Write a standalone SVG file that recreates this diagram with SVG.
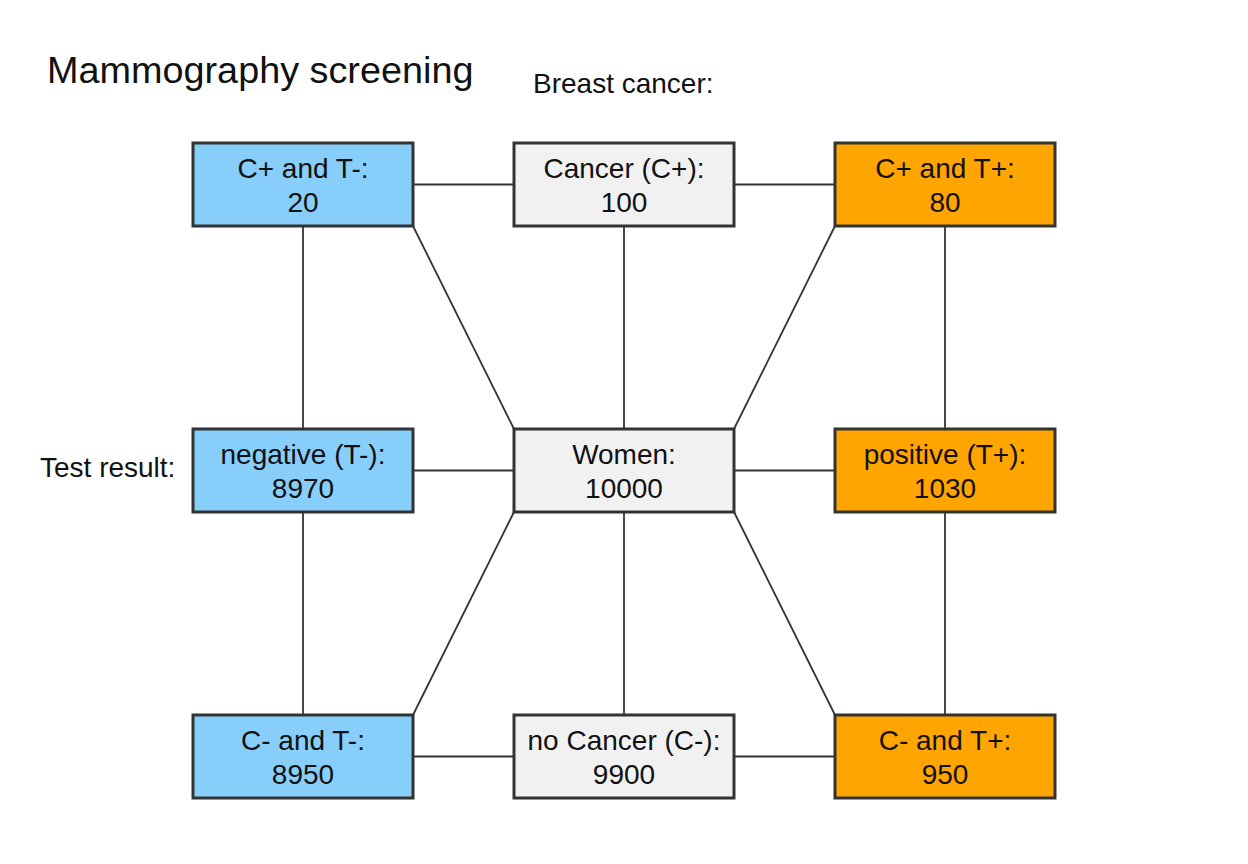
<svg xmlns="http://www.w3.org/2000/svg" width="1248" height="864" viewBox="0 0 1248 864">
<style>
  .box { stroke: #333333; stroke-width: 3; }
  .blue { fill: #87CEFA; }
  .gray { fill: #F1F1F1; }
  .orange { fill: #FFA500; }
  .lbl { font-family: "Liberation Sans", Arial, sans-serif; font-size: 28px; fill: #111; text-anchor: middle; }
  .free { font-family: "Liberation Sans", Arial, sans-serif; font-size: 28px; fill: #111; }
  .conn line { stroke: #333; stroke-width: 1.8; }
</style>
<rect width="1248" height="864" fill="#ffffff"/>
<text class="free" x="47" y="83" style="font-size:37.8px">Mammography screening</text>
<text class="free" x="533" y="93">Breast cancer:</text>
<text class="free" x="40" y="477">Test result:</text>
<g id="connectors" class="conn">
  <line x1="413" y1="184.5" x2="514" y2="184.5"/>
  <line x1="734" y1="184.5" x2="835" y2="184.5"/>
  <line x1="413" y1="470.5" x2="514" y2="470.5"/>
  <line x1="734" y1="470.5" x2="835" y2="470.5"/>
  <line x1="413" y1="756.5" x2="514" y2="756.5"/>
  <line x1="734" y1="756.5" x2="835" y2="756.5"/>
  <line x1="303" y1="226" x2="303" y2="429"/>
  <line x1="303" y1="512" x2="303" y2="715"/>
  <line x1="624" y1="226" x2="624" y2="429"/>
  <line x1="624" y1="512" x2="624" y2="715"/>
  <line x1="945" y1="226" x2="945" y2="429"/>
  <line x1="945" y1="512" x2="945" y2="715"/>
  <line x1="413" y1="226" x2="514" y2="429"/>
  <line x1="835" y1="226" x2="734" y2="429"/>
  <line x1="514" y1="512" x2="413" y2="715"/>
  <line x1="734" y1="512" x2="835" y2="715"/>
</g>
<g id="cpos-tneg">
  <rect class="box blue" x="193" y="143" width="220" height="83"/>
  <text class="lbl" x="303" y="177.5">C+ and T-:</text>
  <text class="lbl" x="303" y="211.5">20</text>
</g>
<g id="cancer">
  <rect class="box gray" x="514" y="143" width="220" height="83"/>
  <text class="lbl" x="624" y="177.5">Cancer (C+):</text>
  <text class="lbl" x="624" y="211.5">100</text>
</g>
<g id="cpos-tpos">
  <rect class="box orange" x="835" y="143" width="220" height="83"/>
  <text class="lbl" x="945" y="177.5">C+ and T+:</text>
  <text class="lbl" x="945" y="211.5">80</text>
</g>
<g id="negative">
  <rect class="box blue" x="193" y="429" width="220" height="83"/>
  <text class="lbl" x="303" y="463.5">negative (T-):</text>
  <text class="lbl" x="303" y="497.5">8970</text>
</g>
<g id="women">
  <rect class="box gray" x="514" y="429" width="220" height="83"/>
  <text class="lbl" x="624" y="463.5">Women:</text>
  <text class="lbl" x="624" y="497.5">10000</text>
</g>
<g id="positive">
  <rect class="box orange" x="835" y="429" width="220" height="83"/>
  <text class="lbl" x="945" y="463.5">positive (T+):</text>
  <text class="lbl" x="945" y="497.5">1030</text>
</g>
<g id="cneg-tneg">
  <rect class="box blue" x="193" y="715" width="220" height="83"/>
  <text class="lbl" x="303" y="749.5">C- and T-:</text>
  <text class="lbl" x="303" y="783.5">8950</text>
</g>
<g id="nocancer">
  <rect class="box gray" x="514" y="715" width="220" height="83"/>
  <text class="lbl" x="624" y="749.5">no Cancer (C-):</text>
  <text class="lbl" x="624" y="783.5">9900</text>
</g>
<g id="cneg-tpos">
  <rect class="box orange" x="835" y="715" width="220" height="83"/>
  <text class="lbl" x="945" y="749.5">C- and T+:</text>
  <text class="lbl" x="945" y="783.5">950</text>
</g>
</svg>
